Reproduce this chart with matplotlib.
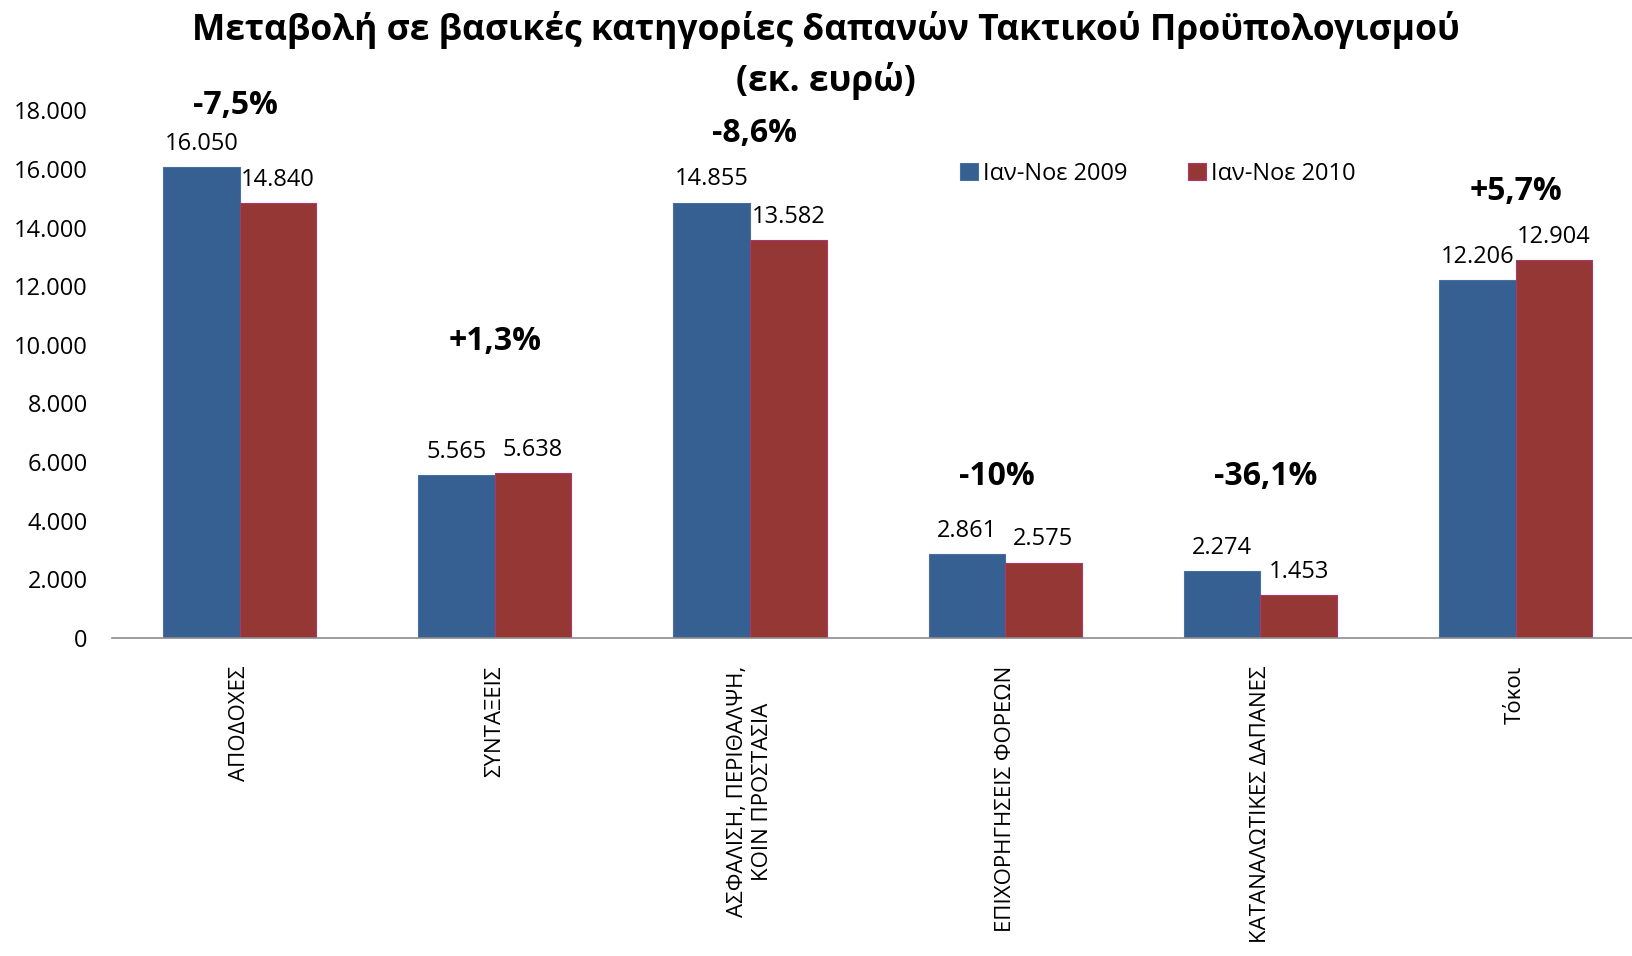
import numpy as np
import matplotlib
matplotlib.use("Agg")
import matplotlib.pyplot as plt

plt.rcParams['font.family'] = ['Open Sans', 'DejaVu Sans']

categories = ["ΑΠΟΔΟΧΕΣ", "ΣΥΝΤΑΞΕΙΣ", "ΑΣΦΑΛΙΣΗ, ΠΕΡΙΘΑΛΨΗ,\nΚΟΙΝ ΠΡΟΣΤΑΣΙΑ",
              "ΕΠΙΧΟΡΗΓΗΣΕΙΣ ΦΟΡΕΩΝ", "ΚΑΤΑΝΑΛΩΤΙΚΕΣ ΔΑΠΑΝΕΣ", "Τόκοι"]
values_2009 = [16050, 5565, 14855, 2861, 2274, 12206]
values_2010 = [14840, 5638, 13582, 2575, 1453, 12904]
labels_2009 = ["16.050", "5.565", "14.855", "2.861", "2.274", "12.206"]
labels_2010 = ["14.840", "5.638", "13.582", "2.575", "1.453", "12.904"]
pct_labels = ["-7,5%", "+1,3%", "-8,6%", "-10%", "-36,1%", "+5,7%"]
# where the change labels sit (y in data units, x shift from group centre)
pct_y = [18180, 10120, 17220, 5500, 5500, 15230]
pct_dx = [-0.016, 0.0, 0.016, -0.033, 0.02, 0.0]
yticks = [0, 2000, 4000, 6000, 8000, 10000, 12000, 14000, 16000, 18000]
ytick_labels = ["0", "2.000", "4.000", "6.000", "8.000", "10.000", "12.000",
                "14.000", "16.000", "18.000"]

fig = plt.figure(figsize=(16.33, 9.56), dpi=100)
ax = fig.add_axes([0.0686, 0.3326, 0.9314, 0.552])

x = np.arange(len(categories))
w = 0.30
ax.bar(x - w / 2, values_2009, w, color="#366092", edgecolor="#4a70a0",
       linewidth=0.8, label="Ιαν-Νοε 2009")
ax.bar(x + w / 2, values_2010, w, color="#953735", edgecolor="#a8386e",
       linewidth=0.8, label="Ιαν-Νοε 2010")

for i in range(len(categories)):
    ax.annotate(labels_2009[i], (x[i] - w / 2, values_2009[i]), xytext=(0, 8),
                textcoords="offset points", ha="center", va="bottom", fontsize=17)
    ax.annotate(labels_2010[i], (x[i] + w / 2, values_2010[i]), xytext=(0, 8),
                textcoords="offset points", ha="center", va="bottom", fontsize=17)
    ax.text(x[i] + pct_dx[i], pct_y[i], pct_labels[i], ha="center", va="center",
            fontsize=23, fontweight="bold")

ax.set_xlim(-0.5, 5.46)
ax.set_ylim(0, 18000)
ax.set_yticks(yticks)
ax.set_yticklabels(ytick_labels, fontsize=17)
ax.set_xticks(x)
ax.set_xticklabels(categories, rotation=90, fontsize=16, ha="center", va="top",
                   multialignment="center")
ax.tick_params(axis="both", length=0)
ax.tick_params(axis="x", pad=20)
ax.tick_params(axis="y", pad=17.5)
for s in ["top", "right", "left"]:
    ax.spines[s].set_visible(False)
ax.spines["bottom"].set_color("#8c8c8c")
ax.spines["bottom"].set_linewidth(1.2)

ax.legend(loc="center", bbox_to_anchor=(0.709, 0.818), ncol=2, frameon=False,
          fontsize=17, handlelength=0.75, handleheight=0.75, handletextpad=0.2,
          columnspacing=2.6, bbox_transform=fig.transFigure)

fig.text(0.506, 0.969, "Μεταβολή σε βασικές κατηγορίες δαπανών Τακτικού Προϋπολογισμού",
         ha="center", va="center", fontsize=25.5, fontweight="bold")
fig.text(0.506, 0.915, "(εκ. ευρώ)",
         ha="center", va="center", fontsize=25.5, fontweight="bold")

fig.savefig("out.png", dpi=100)
